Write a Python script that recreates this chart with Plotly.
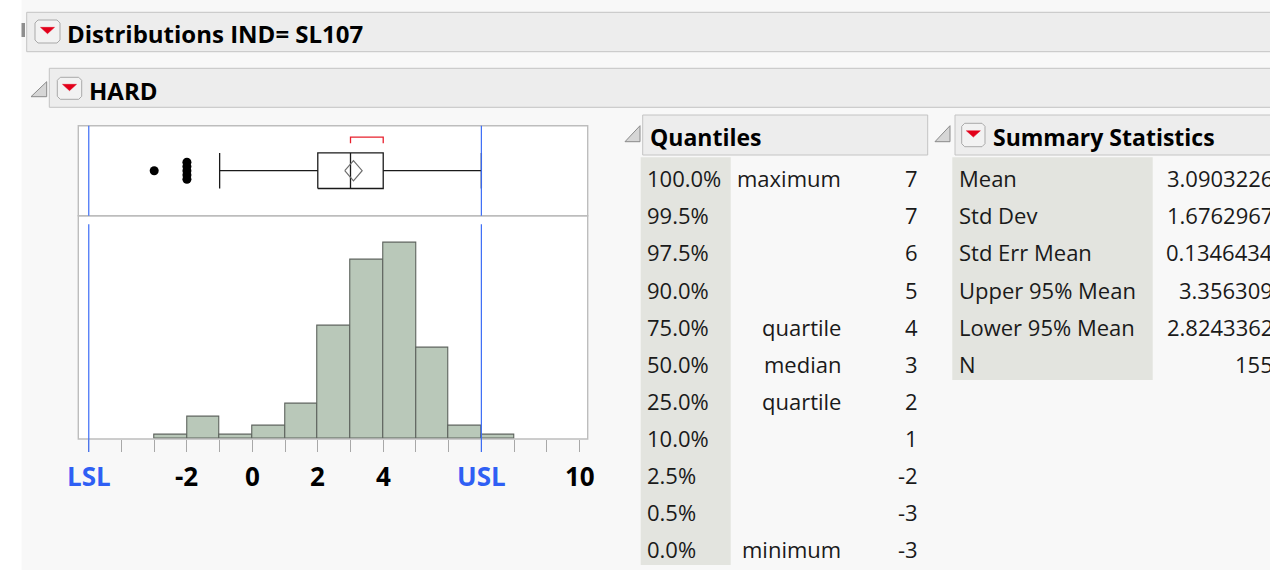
import numpy as np
import plotly.graph_objects as go

# ---------------- data ----------------
hard_values = [-3, -2, -1, 0, 1, 2, 3, 4, 5, 6, 7]
hard_counts = [1, 5, 1, 3, 8, 26, 41, 45, 21, 3, 1]
spec_values = [-5, 7]
spec_labels = ["LSL", "USL"]
axis_tick_values = [-2, 0, 2, 4, 10]
axis_tick_labels = ["-2", "0", "2", "4", "10"]

quantile_levels = ["100.0%", "99.5%", "97.5%", "90.0%", "75.0%", "50.0%",
                   "25.0%", "10.0%", "2.5%", "0.5%", "0.0%"]
quantile_names = ["maximum", "", "", "", "quartile", "median",
                  "quartile", "", "", "", "minimum"]
quantile_values = [7, 7, 6, 5, 4, 3, 2, 1, -2, -3, -3]

summary_labels = ["Mean", "Std Dev", "Std Err Mean", "Upper 95% Mean",
                  "Lower 95% Mean", "N"]
summary_values = ["3.0903226", "1.6762967", "0.1346434", "3.356309",
                  "2.8243362", "155"]

# ---------------- derived statistics ----------------
data = np.sort(np.repeat(hard_values, hard_counts))
n = data.size


def jmp_quantile(x, p):
    r = (len(x) + 1) * p
    if r <= 1:
        return float(x[0])
    if r >= len(x):
        return float(x[-1])
    lo = int(np.floor(r))
    f = r - lo
    return float(x[lo - 1] + f * (x[lo] - x[lo - 1]))


q1 = jmp_quantile(data, 0.25)
med = jmp_quantile(data, 0.5)
q3 = jmp_quantile(data, 0.75)
iqr = q3 - q1
w_lo = float(data[data >= q1 - 1.5 * iqr].min())
w_hi = float(data[data <= q3 + 1.5 * iqr].max())
outliers = data[(data < w_lo) | (data > w_hi)]
mean_val = float(summary_values[0])
ci_hi = float(summary_values[3])
ci_lo = float(summary_values[4])

k = int(np.ceil(n / 2))
lens = data[k - 1:] - data[:n - k + 1]
i0 = int(np.argmin(lens))
sh_lo, sh_hi = float(data[i0]), float(data[i0 + k - 1])

# ---------------- helpers ----------------
W, H = 1270, 570


def X(px):
    return px / W


def Y(py):
    return 1 - py / H


FONT = "Open Sans, Noto Sans, DejaVu Sans, sans-serif"
BLUE = "#2f5ff4"
shapes = []
annotations = []


def rect(x0, y0, x1, y1, fill, line=None, lw=1):
    shapes.append(dict(type="rect", xref="paper", yref="paper",
                       x0=X(x0), x1=X(x1), y0=Y(y1), y1=Y(y0),
                       fillcolor=fill, line=dict(color=line or fill, width=lw if line else 0),
                       layer="below"))


def poly(pts, fill, line, lw=1):
    path = "M " + " L ".join(f"{X(a):.5f},{Y(b):.5f}" for a, b in pts) + " Z"
    shapes.append(dict(type="path", xref="paper", yref="paper", path=path,
                       fillcolor=fill, line=dict(color=line, width=lw), layer="above"))


def red_button(x0, y0, x1, y1):
    r = 3
    pts = [(x0 + r, y0), (x1 - r, y0), (x1, y0 + r), (x1, y1 - r), (x1 - r, y1),
           (x0 + r, y1), (x0, y1 - r), (x0, y0 + r)]
    poly(pts, "#f2f2f2", "#a9a9a9", 1)
    cx = (x0 + x1) / 2
    ty = y0 + (y1 - y0) * 0.32
    poly([(cx - 7, ty), (cx + 7, ty), (cx, ty + 6.3)], "#e2001a", "#e2001a", 0.5)


def disclosure(x0, y0, x1, y1):
    poly([(x0, y1), (x1, y1), (x1, y0)], "#d6d6d6", "#8a8a8a", 1)


def text(x, y, s, anchor="left", size=22, color="#1a1a1a", bold=False):
    annotations.append(dict(xref="paper", yref="paper", x=X(x), y=Y(y),
                            text=f"<b>{s}</b>" if bold else s, showarrow=False,
                            xanchor=anchor, yanchor="middle",
                            font=dict(family=FONT, size=size, color=color)))


# ---------------- report furniture ----------------
rect(0, 0, 21.5, H, "#ffffff")
rect(26.7, 12.3, 1290, 51.7, "#ededed", "#c4c4c4")
rect(21.5, 23, 25, 37, "#8f8f8f")
red_button(35, 20, 60, 43)
text(65, 34, "Distributions IND= SL107", size=24, color="#000000", bold=True)

rect(49.3, 68.3, 1290, 107.3, "#ededed", "#c4c4c4")
disclosure(31, 81.7, 46.7, 96.7)
red_button(57.3, 77.3, 81.7, 99.3)
text(87, 90, "HARD", size=24, color="#000000", bold=True)

disclosure(625, 125.7, 640, 141.7)
rect(642.7, 115, 927.7, 155, "#ededed", "#c4c4c4")
text(648, 137, "Quantiles", size=23, color="#000000", bold=True)

disclosure(935, 125.7, 950, 141.7)
rect(955, 115, 1290, 155, "#ededed", "#c4c4c4")
red_button(961.7, 123.3, 985, 146.7)
text(991, 137, "Summary Statistics", size=23, color="#000000", bold=True)

rect(640.7, 157.3, 730.7, 565, "#e3e4df")
rect(952.3, 157.3, 1152.7, 380, "#e3e4df")

row0, dy = 178.3, 37.1
for i, (lv, nm, v) in enumerate(zip(quantile_levels, quantile_names, quantile_values)):
    yy = row0 + dy * i
    text(645, yy, lv)
    if nm:
        text(843, yy, nm, anchor="right")
    text(920, yy, str(v), anchor="right")

for i, (lb, v) in enumerate(zip(summary_labels, summary_values)):
    yy = row0 + dy * i
    text(957, yy, lb)
    text(1275, yy, v, anchor="right")

# ---------------- plot frames / spec lines ----------------
for yr in ["y domain", "y2 domain"]:
    shapes.append(dict(type="rect", xref="x domain", yref=yr, x0=0, x1=1, y0=0, y1=1,
                       line=dict(color="#bdbdbd", width=1.4), fillcolor="rgba(0,0,0,0)",
                       layer="above"))
for sv in spec_values:
    shapes.append(dict(type="line", xref="x", yref="y2 domain", x0=sv, x1=sv, y0=0, y1=1,
                       line=dict(color="#3b6cf6", width=1.2), layer="above"))
    shapes.append(dict(type="line", xref="x", yref="paper", x0=sv, x1=sv,
                       y0=Y(452), y1=Y(224.3),
                       line=dict(color="#3b6cf6", width=1.2), layer="above"))

for tv, tl in zip(axis_tick_values, axis_tick_labels):
    annotations.append(dict(xref="x", yref="paper", x=tv, y=Y(476), text=f"<b>{tl}</b>",
                            showarrow=False, xanchor="center", yanchor="middle",
                            font=dict(family=FONT, size=26, color="#000000")))
for sv, sl in zip(spec_values, spec_labels):
    annotations.append(dict(xref="x", yref="paper", x=sv, y=Y(476), text=f"<b>{sl}</b>",
                            showarrow=False, xanchor="center", yanchor="middle",
                            font=dict(family=FONT, size=26, color=BLUE)))

# ---------------- traces ----------------
fig = go.Figure()
fig.add_trace(go.Bar(x=hard_values, y=hard_counts, width=1, offset=0,
                     marker=dict(color="#b9c8b9", line=dict(color="#5d635d", width=1.1)),
                     xaxis="x", yaxis="y", hoverinfo="x+y"))

bh = 0.198  # half box height in box-panel units
yc = 0.5
box_x = [q1, q3, q3, q1, q1, None, med, med, None, w_lo, q1, None, q3, w_hi,
         None, w_lo, w_lo, None, w_hi, w_hi]
box_y = [yc - bh, yc - bh, yc + bh, yc + bh, yc - bh, None, yc - bh, yc + bh, None,
         yc, yc, None, yc, yc, None, yc - bh, yc + bh, None, yc - bh, yc + bh]
fig.add_trace(go.Scatter(x=box_x, y=box_y, mode="lines", xaxis="x", yaxis="y2",
                         line=dict(color="#1a1a1a", width=1.3), hoverinfo="skip"))

dh = 0.112
fig.add_trace(go.Scatter(x=[ci_lo, mean_val, ci_hi, mean_val, ci_lo],
                         y=[yc, yc + dh, yc, yc - dh, yc], mode="lines",
                         xaxis="x", yaxis="y2", line=dict(color="#6e6e6e", width=1.2),
                         hoverinfo="skip"))

br_top, br_bot = 0.872, 0.805
fig.add_trace(go.Scatter(x=[sh_lo, sh_lo, sh_hi, sh_hi], y=[br_bot, br_top, br_top, br_bot],
                         mode="lines", xaxis="x", yaxis="y2",
                         line=dict(color="#e8202d", width=1.3), hoverinfo="skip"))

ox, oy = [], []
for v in np.unique(outliers):
    cnt = int((outliers == v).sum())
    offs = np.linspace(-0.095, 0.095, cnt) if cnt > 1 else [0.0]
    for o in offs:
        ox.append(float(v))
        oy.append(yc + o)
fig.add_trace(go.Scatter(x=ox, y=oy, mode="markers", xaxis="x", yaxis="y2",
                         marker=dict(color="#000000", size=9), hoverinfo="x"))

fig.update_layout(
    width=W, height=H, margin=dict(l=0, r=0, t=0, b=0),
    paper_bgcolor="#f8f8f8", plot_bgcolor="#ffffff", showlegend=False,
    bargap=0,
    xaxis=dict(domain=[X(78.3), X(587.7)], range=[-5.32, 10.25], anchor="y",
               tickmode="linear", tick0=0, dtick=1, ticks="outside", ticklen=12,
               tickwidth=1.2, tickcolor="#a8a8a8", showticklabels=False,
               showgrid=False, zeroline=False, showline=False, fixedrange=True),
    yaxis=dict(domain=[Y(439), Y(215.7)], range=[0, 51.1], visible=False, fixedrange=True),
    yaxis2=dict(domain=[Y(215.7), Y(125.7)], range=[0, 1], anchor="x", visible=False,
                fixedrange=True),
    shapes=shapes, annotations=annotations,
    font=dict(family=FONT),
)

fig.write_html("out.html", config={"displayModeBar": False},
               post_script="document.body.style.margin='0px';"
                           "document.body.style.overflow='hidden';")
